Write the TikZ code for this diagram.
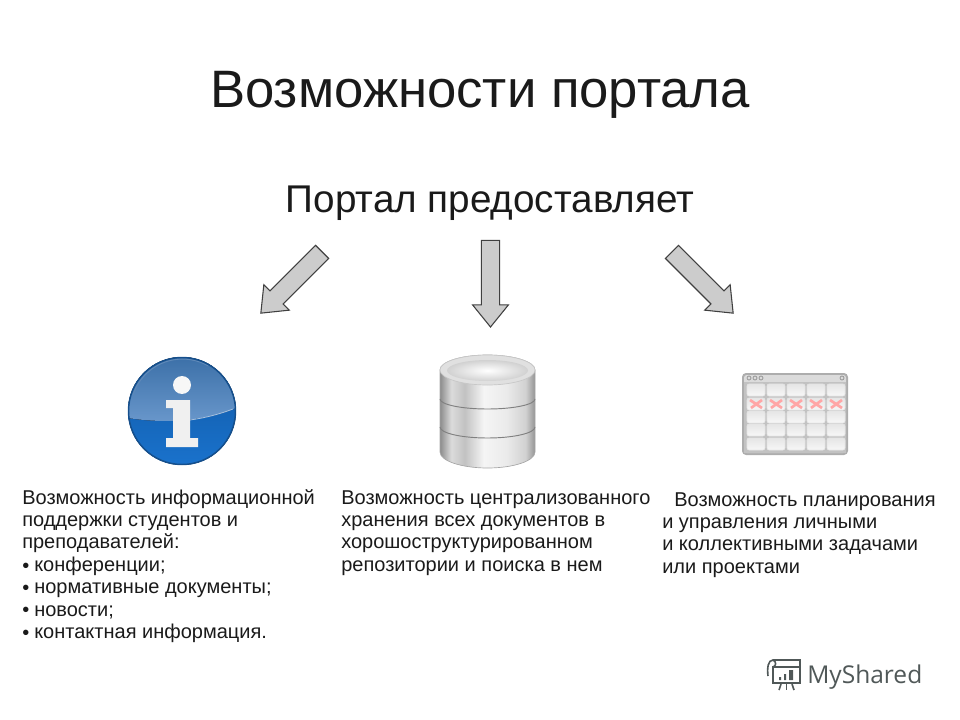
\documentclass[tikz,border=0pt]{standalone}
\usepackage{fontspec}
\setmainfont{Liberation Sans}
\newfontfamily\logofont{Open Sans}
\usetikzlibrary{shapes.arrows}
\definecolor{arrowgray}{HTML}{CCCCCC}
\definecolor{textcol}{HTML}{1A1A1A}
\definecolor{logocol}{HTML}{505858}
\definecolor{infoedge}{HTML}{154F8C}
\definecolor{infotop}{HTML}{3C70A8}
\definecolor{infomid}{HTML}{6A98CC}
\definecolor{infolow}{HTML}{0F58A4}
\definecolor{infobot}{HTML}{1A72CC}
\newcommand{\bul}{\makebox[9pt][l]{\raisebox{-.6pt}{\fontsize{15}{15}\selectfont •}}}
\pgfdeclarehorizontalshading{metal}{100bp}{color(0bp)=(black!45); color(25bp)=(black!45); color(31bp)=(black!14); color(38bp)=(black!24); color(48bp)=(black!4); color(60bp)=(black!8); color(70bp)=(black!18); color(75bp)=(black!42); color(100bp)=(black!42)}
\begin{document}
\begin{tikzpicture}[x=.75pt,y=-.75pt,
  bigarrow/.style={single arrow,draw=black!75,fill=arrowgray,line width=.8pt,inner sep=0pt,minimum height=65pt,single arrow head extend=6.6pt,single arrow tip angle=78},
  bodytext/.style={anchor=north west,align=left,inner sep=0pt,text=textcol,font=\fontsize{15}{16.8}\selectfont},
  cell/.style={top color=black!10,bottom color=black!3,draw=black!10,line width=.4pt,rounded corners=1.5pt}]
\useasboundingbox (0,0) rectangle (960,720);
\node[anchor=base,text=textcol,font=\fontsize{39.5}{39.5}\selectfont] (title) at (480,108) {Возможности портала};
\node[anchor=base,text=textcol,font=\fontsize{29}{29}\selectfont] (subtitle) at (490,213) {Портал предоставляет};
% arrows
\node[bigarrow,rotate=-135] (arrowl) at (295.5,278.5) {\rule{0pt}{13pt}};
\node[bigarrow,rotate=-90] (arrowm) at (490.5,278) {\rule{0pt}{13pt}};
\node[bigarrow,rotate=-45] (arrowr) at (698.5,278.5) {\rule{0pt}{13pt}};
% info icon
\begin{scope}
\clip (182,411) circle (54);
\fill[top color=infolow,bottom color=infobot] (128,357) rectangle (236,465);
\fill[top color=infotop,bottom color=infomid] (128,357) -- (128,418) .. controls (165,424) and (205,421) .. (236,408) -- (236,357) -- cycle;
\end{scope}
\draw[black!10!infomid,line width=.7pt] (133,395) arc (-162:-60:52);
\draw[white!40!infomid,line width=.6pt] (190,420) .. controls (205,418) and (220,414) .. (233,409);
\draw[infoedge,line width=1.1pt] (182,411) circle (53.5);
\fill[black!3] (182,385) circle (9);
\fill[black!6] (166,400) -- (190,400) -- (190,438) -- (198,438) -- (198,447) -- (166,447) -- (166,438) -- (173,438) -- (173,408) -- (166,408) -- cycle;
% database icon
\shade[shading=metal,draw=black!35,line width=.5pt] (440,370) -- (440,452) arc (180:0:47.5 and 16) -- (535,370) arc (0:-180:47.5 and 15) -- cycle;
\draw[black!50,line width=.7pt] (440,399) arc (180:0:47.5 and 10);
\draw[black!50,line width=.7pt] (440,427) arc (180:0:47.5 and 11);
\draw[black!22,fill=black!12,line width=.5pt] (487.5,370) ellipse (47.5 and 15);
\shade[inner color=white,outer color=black!18] (487.5,370.5) ellipse (40.5 and 10.5);
% calendar icon
\fill[black!32,rounded corners=3pt] (742,373) rectangle (848,455);
\fill[black!14,rounded corners=2pt] (744,375) rectangle (846,453);
\fill[black!24] (744,382) rectangle (846,453);
\foreach \cx in {747,767,787,807,827}
  \foreach \cy in {384,398,411,424,438}
    \draw[cell] (\cx,\cy) rectangle +(18,12);
\foreach \cx in {756,776,796,816,836}{
  \draw[red!35,line width=2pt] (\cx-6,400) -- (\cx+6,408);
  \draw[red!35,line width=2pt] (\cx-5,408) -- (\cx+6,400);
}
\foreach \cx in {749,755,761,842}
  \draw[black!45,line width=.5pt] (\cx,378) circle (2);
% texts
\node[bodytext] (infotext) at (22,489) {Возможность информационной\\поддержки студентов и\\преподавателей:\\\bul конференции;\\\bul нормативные документы;\\\bul новости;\\\bul контактная информация.};
\node[bodytext] (dbtext) at (341,490) {Возможность централизованного\\хранения всех документов в\\хорошоструктурированном\\репозитории и поиска в нем};
\node[bodytext] (plantext) at (662,492) {\hspace{9pt}Возможность планирования\\и управления личными\\и коллективными задачами\\или проектами};
% logo
\begin{scope}[draw=logocol,line width=1.2pt]
\draw (773,667) rectangle (800,683);
\draw (768,676) .. controls (767,668) and (768,660) .. (773,660) -- (800,660) -- (800,667);
\draw (773,660) .. controls (777,662) and (776,666) .. (773,667);
\draw (781,684) -- (779,690);
\draw (786.5,684) -- (786.5,690);
\draw (792,684) -- (794,690);
\fill[logocol] (779,677) rectangle (781,680) (784,674) rectangle (786,680) (789,670) rectangle (793,680);
\end{scope}
\node[anchor=base west,inner sep=0pt,text=logocol,font=\logofont\fontsize{18.4}{18.4}\selectfont] (logo) at (807,683) {MyShared};
\end{tikzpicture}
\end{document}
